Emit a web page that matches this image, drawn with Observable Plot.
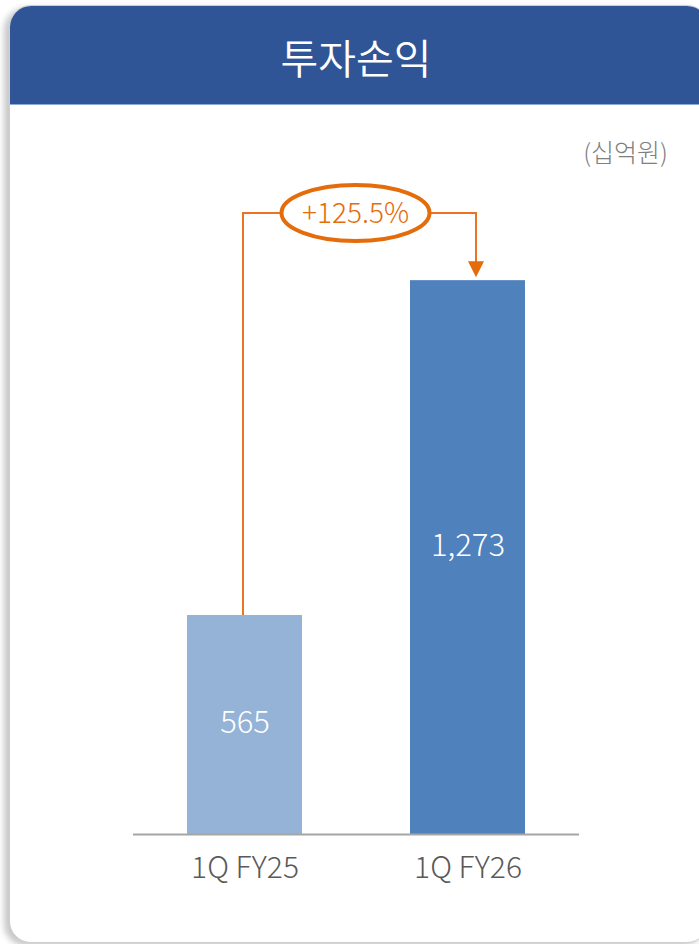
<!DOCTYPE html>
<html>
<head>
<meta charset="utf-8">
<script src="https://cdn.jsdelivr.net/npm/d3@7"></script>
<script src="https://cdn.jsdelivr.net/npm/@observablehq/plot@0.6"></script>
<style>
  html, body { margin: 0; padding: 0; background: #ffffff; }
  body { width: 699px; height: 944px; position: relative; overflow: hidden;
         font-family: "Noto Sans CJK KR", "Open Sans", sans-serif; font-weight: 300; }
  #card { position: absolute; left: 9px; top: 5px; width: 698px; height: 936px;
          border: 1px solid #cfcfcf; border-radius: 22px; background: #fff;
          box-shadow: -5px 3px 6px rgba(0,0,0,0.22); overflow: hidden; }
  #header { position: absolute; left: 0; top: 0; right: 0; height: 99px;
            background: #2f5597; border-bottom: 1px solid #8eaadb;
            color: #fff; font-size: 41px; text-align: center; line-height: 101px;
            padding-right: 6px; box-sizing: border-box; font-weight: 350; }
  #unit { position: absolute; right: 31px; top: 133px; font-size: 25px; color: #7f7f7f; }
  #chart { position: absolute; left: 0; top: 105px; }
</style>
</head>
<body>
<div id="card"><div id="header"></div></div>
<div id="unit"></div>
<div id="chart"></div>
<script>
const title = "투자손익";
const unitLabel = "(십억원)";
const categories = ["1Q FY25", "1Q FY26"];
const values = [565, 1273];
const valueLabels = ["565", "1,273"];
const growthLabel = "+125.5%";
const barColors = ["#95b3d7", "#4f81bd"];
const yFloor = 102;
const yCeil = 1415;

document.getElementById("header").textContent = title;
document.getElementById("unit").textContent = unitLabel;

const data = categories.map((c, i) => ({cat: c, v: values[i], label: valueLabels[i], color: barColors[i]}));

function connector(index, scales) {
  const x = scales.x, y = scales.y;
  const bw = x.bandwidth ? x.bandwidth() : 0;
  const xa = x(categories[0]) + bw / 2 - 1.5;
  const xb = x(categories[1]) + bw / 2 + 8.5;
  const yt = y(yCeil);
  const ya = y(values[0]);
  const yb = y(values[1]);
  const g = d3.create("svg:g");
  g.append("path")
    .attr("d", `M${xa},${ya}V${yt}H${xb}V${yb - 18}`)
    .attr("fill", "none").attr("stroke", "#ea7421").attr("stroke-width", 2);
  g.append("path")
    .attr("d", `M${xb - 8},${yb - 19}L${xb + 8},${yb - 19}L${xb},${yb - 3}Z`)
    .attr("fill", "#e46c0a");
  const cx = (xa + xb) / 2 - 4;
  g.append("ellipse")
    .attr("cx", cx).attr("cy", yt).attr("rx", 74).attr("ry", 28)
    .attr("fill", "#fff").attr("stroke", "#e46c0a").attr("stroke-width", 4);
  g.append("text")
    .attr("x", cx).attr("y", yt).attr("dy", "0.35em")
    .attr("text-anchor", "middle").attr("fill", "#e46c0a")
    .attr("font-size", 28).attr("font-weight", 300).text(growthLabel);
  return g.node();
}

const chart = Plot.plot({
  width: 699,
  height: 836,
  marginLeft: 133,
  marginRight: 120,
  marginTop: 108,
  marginBottom: 107,
  style: { fontFamily: "'Noto Sans CJK KR', 'Open Sans', sans-serif", fontWeight: 300, background: "transparent", overflow: "visible" },
  x: { domain: categories, paddingInner: 0.484, paddingOuter: 0.242, axis: null },
  y: { domain: [yFloor, yCeil], axis: null },
  marks: [
    Plot.barY(data, { x: "cat", y1: yFloor, y2: "v", fill: "color" }),
    Plot.ruleY([yFloor], { stroke: "#a6a6a6", strokeWidth: 2 }),
    Plot.text(data, { x: "cat", y: d => yFloor + (d.v - yFloor) * 0.528, text: "label", fill: "#ffffff", fontSize: 31, fontWeight: 300, dy: 4 }),
    Plot.text(data, { x: "cat", y: yFloor, text: "cat", fill: "#595959", fontSize: 30, fontWeight: 300, dy: 34 }),
    connector
  ]
});
document.getElementById("chart").appendChild(chart);
</script>
</body>
</html>
